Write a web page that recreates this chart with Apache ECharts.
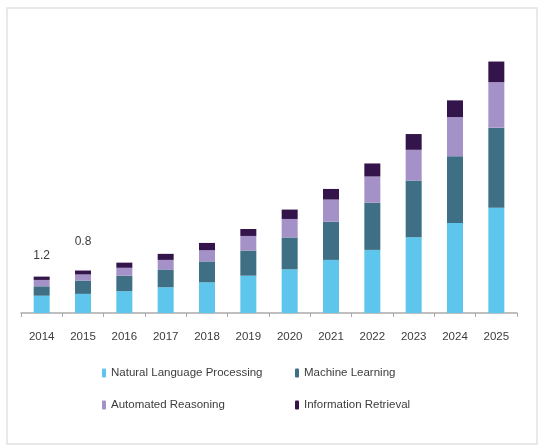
<!DOCTYPE html>
<html>
<head>
<meta charset="utf-8">
<script src="https://cdn.jsdelivr.net/npm/echarts@6/dist/echarts.min.js"></script>
<style>
  html, body { margin: 0; padding: 0; background: #fff; }
  #chart { width: 538px; height: 448px; }
</style>
</head>
<body>
<div id="chart"></div>
<script>
var years = ["2014", "2015", "2016", "2017", "2018", "2019", "2020", "2021", "2022", "2023", "2024", "2025"];

var nlp = [0.57, 0.63, 0.72, 0.85, 1.01, 1.23, 1.44, 1.75, 2.08, 2.50, 2.97, 3.47];
var ml  = [0.31, 0.44, 0.51, 0.57, 0.69, 0.83, 1.05, 1.26, 1.56, 1.87, 2.20, 2.64];
var ar  = [0.21, 0.20, 0.26, 0.33, 0.37, 0.48, 0.61, 0.73, 0.86, 1.01, 1.29, 1.50];
var ir  = [0.11, 0.13, 0.17, 0.20, 0.24, 0.23, 0.31, 0.35, 0.43, 0.52, 0.55, 0.68];

// value labels shown above the first two bars
var topLabels = ["1.2", "0.8"];

var names = ["Natural Language Processing", "Machine Learning", "Automated Reasoning", "Information Retrieval"];
var colors = ["#5ec6ec", "#3f6f84", "#a391c7", "#33154b"];

var font = "'Liberation Sans', Arial, sans-serif";
var fontSize = 11.5;

var myChart = echarts.init(document.getElementById('chart'));

var irData = ir.map(function(v, i) {
    if (i < topLabels.length) {
        return {
            value: v,
            label: {
                show: true,
                position: 'top',
                distance: i == 0 ? 15 : 23,
                formatter: topLabels[i],
                color: '#3c3c3c',
                fontSize: 12,
                fontFamily: font
            }
        };
    }
    return v;
});

var seriesData = [nlp, ml, ar, irData];
var series = [];
for (var i = 0; i < names.length; i++) {
    series.push({
        name: names[i],
        type: 'bar',
        stack: 'total',
        barWidth: 16,
        itemStyle: { color: colors[i] },
        data: seriesData[i]
    });
}

// one legend per item, laid out as 2 x 2
var legendPos = [
    { left: 102, top: 365 },
    { left: 295, top: 365 },
    { left: 102, top: 397 },
    { left: 295, top: 397 }
];
var legend = names.map(function(n, i) {
    return {
        data: [n],
        left: legendPos[i].left,
        top: legendPos[i].top,
        padding: 0,
        itemWidth: 4,
        itemHeight: 9,
        selectedMode: false,
        textStyle: {
            color: '#3c3c3c',
            fontSize: fontSize,
            fontFamily: font,
            lineHeight: 16
        }
    };
});

var option = {
    backgroundColor: '#fff',
    animation: false,
    graphic: [{
        type: 'rect',
        shape: { x: 7, y: 8, width: 530, height: 436 },
        style: { fill: 'none', stroke: '#e2e2e2', lineWidth: 1.5 },
        silent: true
    }],
    legend: legend,
    grid: {
        left: 21,
        right: 21,
        top: 40,
        bottom: 135,
        containLabel: false
    },
    xAxis: {
        type: 'category',
        data: years,
        axisLine: { lineStyle: { color: '#aaaaaa', width: 1.5 } },
        axisTick: { show: true, length: 4, lineStyle: { color: '#aaaaaa' } },
        axisLabel: {
            color: '#3c3c3c',
            fontSize: fontSize,
            fontFamily: font,
            margin: 18
        }
    },
    yAxis: {
        type: 'value',
        min: 0,
        max: 9,
        show: false
    },
    series: series
};

myChart.setOption(option);
</script>
</body>
</html>
